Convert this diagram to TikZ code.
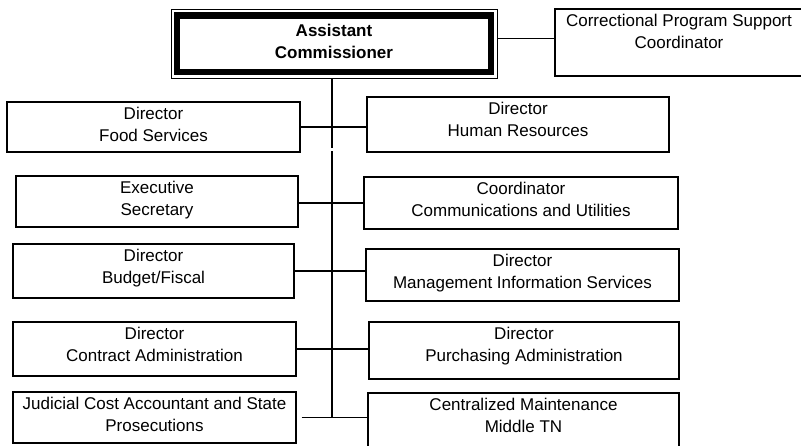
\documentclass[tikz,border=0pt]{standalone}
\usepackage{fontspec}
\setmainfont{Liberation Sans}
\usepackage{tikz}

\begin{document}
\fontsize{17}{21.5}\selectfont
\begin{tikzpicture}[x=1pt,y=-1pt,line width=1.3pt,
    unit/.style={draw,rectangle,inner sep=0pt},
    txt/.style={anchor=north,align=center,inner sep=0pt,yshift=-5.5pt}]
        \useasboundingbox (0,0) rectangle (801,445);
        % top of the chart
        \node[unit,line width=0.9pt,minimum width=326pt,minimum height=68.5pt,
          label={[anchor=north,align=center,inner sep=0pt,font=\bfseries,yshift=-14.5pt]north:Assistant\\Commissioner}] (ac) at (334,43.75) {};
        \draw[line width=6.5pt] ([shift={(6.5,6.5)}]ac.north west) rectangle ([shift={(-6.5,-6.5)}]ac.south east);
        \node[unit,minimum width=248pt,minimum height=67pt,label={[txt]north:Correctional Program Support\\Coordinator}] (cps) at (679,42.5) {};
        % left column
        \node[unit,minimum width=293pt,minimum height=50pt,label={[txt]north:Director\\Food Services}] (fs) at (153.5,127) {};
        \node[unit,minimum width=282pt,minimum height=51pt,label={[txt]north:Executive\\Secretary}] (es) at (157,201.5) {};
        \node[unit,minimum width=281pt,minimum height=54pt,label={[txt]north:Director\\Budget/Fiscal}] (bf) at (153.5,271) {};
        \node[unit,minimum width=283pt,minimum height=54pt,label={[txt]north:Director\\Contract Administration}] (ca) at (154.5,349) {};
        \node[unit,minimum width=283pt,minimum height=51pt,label={[txt]north:Judicial Cost Accountant and State\\Prosecutions}] (jc) at (154.5,417.5) {};
        % right column
        \node[unit,minimum width=302pt,minimum height=55pt,label={[txt]north:Director\\Human Resources}] (hr) at (518,124.5) {};
        \node[unit,minimum width=314pt,minimum height=52pt,label={[txt]north:Coordinator\\Communications and Utilities}] (cu) at (521,203) {};
        \node[unit,minimum width=313pt,minimum height=52pt,label={[txt]north:Director\\Management Information Services}] (mis) at (522.5,275) {};
        \node[unit,minimum width=310pt,minimum height=57pt,label={[txt]north:Director\\Purchasing Administration}] (pa) at (524,350.5) {};
        \node[unit,minimum width=311pt,minimum height=67pt,label={[txt]north:Centralized Maintenance\\Middle TN}] (cm) at (523.5,426.5) {};
        % lines
        \coordinate (gaptop) at (332,148);
        \coordinate (gapbot) at (332,151);
        \coordinate (trunkend) at (332,417);
        \draw (ac.south -| gaptop) -- (gaptop) (gapbot) -- (trunkend);
        \draw ([yshift=5pt]ac.east) -- ([yshift=5pt]ac.east -| cps.west);
        \draw (fs.east) -- (fs.east -| hr.west);
        \draw (cu.west -| es.east) -- (cu.west);
        \draw (bf.east) -- (bf.east -| mis.west);
        \draw (ca.east) -- (ca.east -| pa.west);
        \draw ([xshift=5pt]jc.east) -- (jc.east -| cm.west);
      \end{tikzpicture}
\end{document}
